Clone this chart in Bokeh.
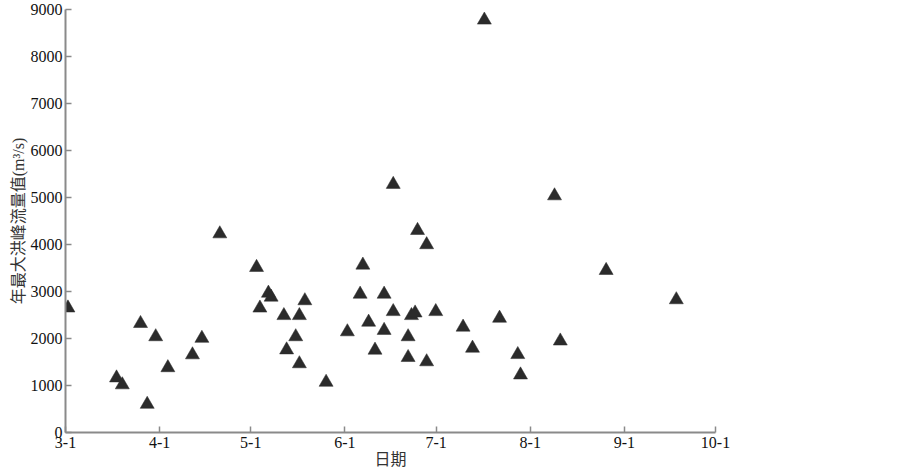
from bokeh.plotting import figure
from bokeh.models import Range1d, FixedTicker
from bokeh.embed import file_html
from bokeh.resources import INLINE

# Days counted from March 1 (3-1 = 0)
tick_days = [0, 31, 61, 92, 122, 153, 184, 214]
tick_labels = ["3-1", "4-1", "5-1", "6-1", "7-1", "8-1", "9-1", "10-1"]
y_ticks = [0, 1000, 2000, 3000, 4000, 5000, 6000, 7000, 8000, 9000]

day = [0.8, 16.8, 18.7, 24.7, 26.9, 29.7, 33.7, 41.8, 44.9, 50.8,
       62.9, 64.0, 66.8, 67.7, 71.9, 72.8, 75.8, 77.0, 77.0, 78.8, 85.8,
       92.8, 97.0, 97.9, 99.8, 101.9, 104.9, 104.9, 107.9, 107.9, 112.8, 112.8,
       113.9, 115.1, 115.9, 118.9, 118.9, 121.9,
       130.9, 134.0, 137.9, 142.9, 148.9, 149.8, 161.0, 162.9, 178.0, 201.1]
flow = [2650, 1162, 1015, 2320, 600, 2038, 1379, 1653, 2004, 4227,
        3512, 2648, 2964, 2880, 2488, 1758, 2038, 2488, 1463, 2804, 1069,
        2143, 2943, 3562, 2347, 1752, 2943, 2173, 5280, 2573, 2038, 1596,
        2488, 2543, 4299, 3996, 1505, 2573,
        2242, 1794, 8775, 2432, 1659, 1225, 5036, 1947, 3448, 2825]

p = figure(frame_width=650, frame_height=423,
           x_range=Range1d(0, 214), y_range=Range1d(0, 9000),
           output_backend="svg", toolbar_location=None,
           min_border_left=65, min_border_right=170, min_border_top=9,
           min_border_bottom=0)
p.outline_line_color = None
p.xgrid.visible = False
p.ygrid.visible = False

p.scatter(day, flow, marker="triangle", size=14,
          fill_color="#2b2b2b", line_color="#2b2b2b", line_width=0.5)

for ax in (p.xaxis[0], p.yaxis[0]):
    ax.axis_line_color = "#8a8a8a"
    ax.axis_line_width = 2
    ax.major_tick_line_color = "#8a8a8a"
    ax.major_tick_line_width = 1.5
    ax.major_tick_in = 6
    ax.major_tick_out = 0
    ax.minor_tick_line_color = None
    ax.major_label_text_font = "Liberation Serif"
    ax.major_label_text_font_size = "16px"
    ax.major_label_text_color = "#111111"
    ax.axis_label_text_font = "Liberation Serif, Noto Sans CJK SC"
    ax.axis_label_text_font_size = "16px"
    ax.axis_label_text_font_style = "normal"
    ax.axis_label_text_color = "#333333"

p.xaxis.ticker = FixedTicker(ticks=tick_days)
p.xaxis.major_label_overrides = {d: l for d, l in zip(tick_days, tick_labels)}
p.yaxis.ticker = FixedTicker(ticks=y_ticks)
p.xaxis.axis_label = "日期"
p.yaxis.axis_label = "年最大洪峰流量值(m³/s)"
p.xaxis.major_label_standoff = 4
p.xaxis.axis_label_standoff = 0
p.yaxis.major_label_standoff = 3
p.yaxis.axis_label_standoff = 1

open("out.html", "w").write(file_html(p, INLINE))
